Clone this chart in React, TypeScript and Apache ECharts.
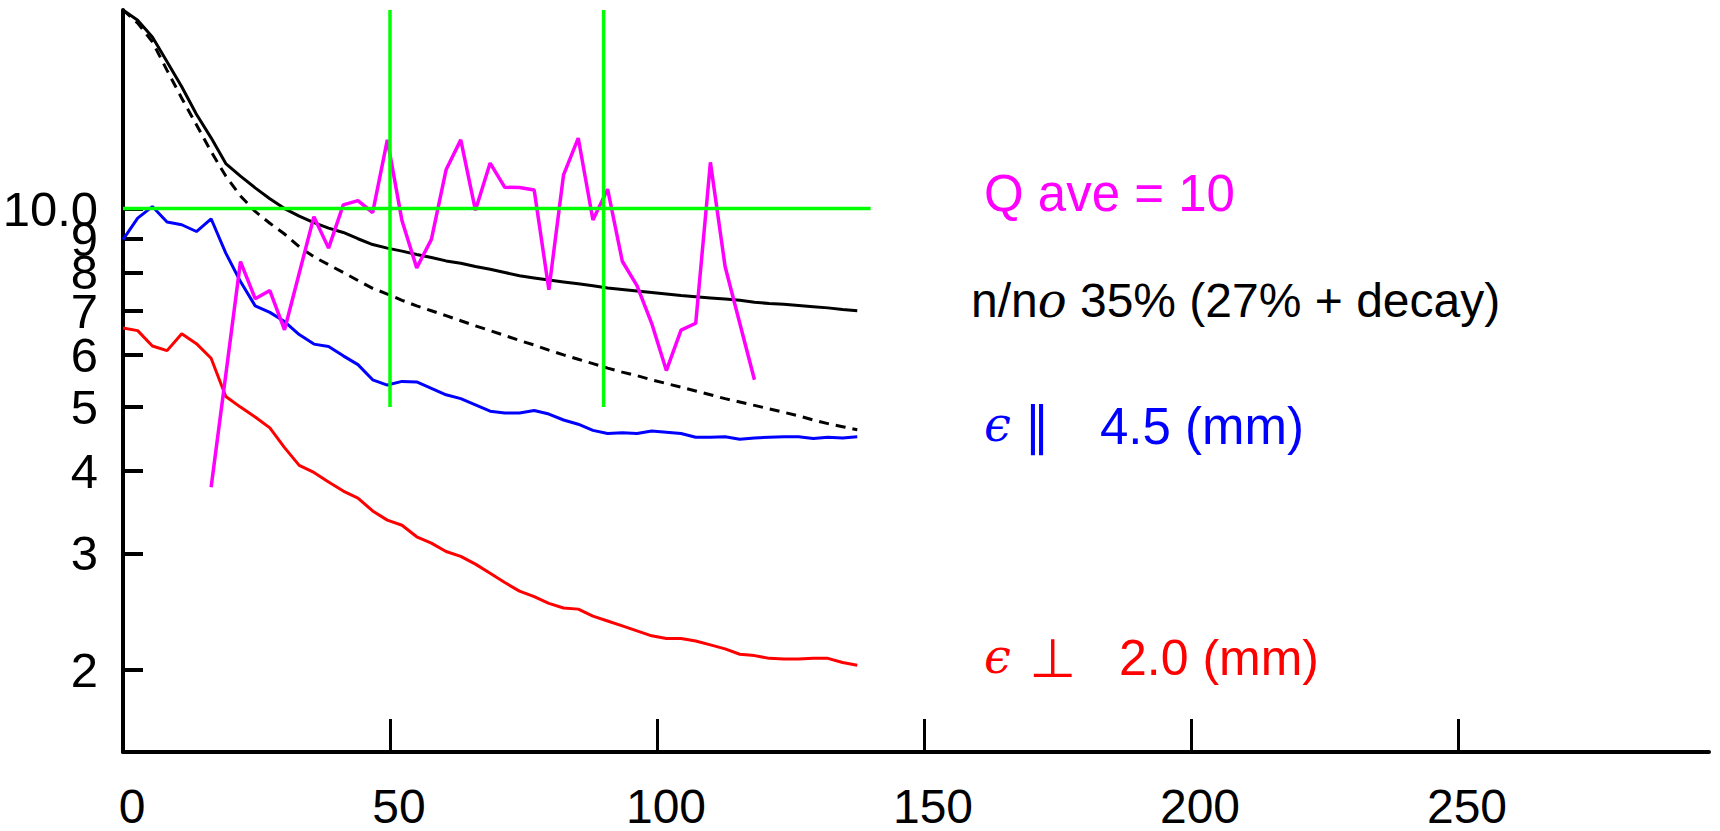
import React, { useEffect, useRef } from "react";
import * as echarts from "echarts";

// Sample positions along the horizontal axis
const sampleX = [
  0, 2.75, 5.5, 8.25, 11, 13.75, 16.5, 19.25, 22, 24.75, 27.5, 30.25, 33, 35.75, 38.5, 41.25, 44,
  46.75, 49.5, 52.25, 55, 57.75, 60.5, 63.25, 66, 68.75, 71.5, 74.25, 77, 79.75, 82.5, 85.25, 88,
  90.75, 93.5, 96.25, 99, 101.75, 104.5, 107.25, 110, 112.75, 115.5, 118.25, 121, 123.75, 126.5,
  129.25, 132, 134.75, 137.5,
];

// n/no, measured (solid black)
const nRatio = [
  20.0, 19.3, 18.2, 16.7, 15.3, 13.9, 12.8, 11.7, 11.2, 10.75, 10.35, 10.0, 9.74, 9.52, 9.34, 9.2,
  9.0, 8.82, 8.71, 8.62, 8.52, 8.43, 8.33, 8.26, 8.17, 8.09, 8.0, 7.91, 7.85, 7.79, 7.74, 7.69,
  7.64, 7.58, 7.54, 7.5, 7.46, 7.42, 7.38, 7.35, 7.32, 7.29, 7.26, 7.21, 7.18, 7.16, 7.13, 7.1,
  7.07, 7.03, 7.0,
];

// n/no including decay (dashed black)
const nDecay = [
  20.0, 19.1, 17.9, 16.2, 14.7, 13.4, 12.2, 11.2, 10.45, 9.9, 9.5, 9.15, 8.75, 8.45, 8.22, 8.0,
  7.78, 7.57, 7.42, 7.26, 7.12, 7.0, 6.88, 6.76, 6.64, 6.53, 6.42, 6.31, 6.21, 6.1, 6.0, 5.91,
  5.82, 5.73, 5.65, 5.58, 5.5, 5.43, 5.36, 5.29, 5.22, 5.15, 5.09, 5.03, 4.97, 4.91, 4.85, 4.78,
  4.72, 4.67, 4.62,
];

// parallel emittance (mm)
const emitPar = [
  8.97, 9.67, 10.07, 9.54, 9.45, 9.23, 9.65, 8.56, 7.75, 7.12, 6.96, 6.74, 6.44, 6.23, 6.18, 5.98,
  5.8, 5.5, 5.4, 5.47, 5.46, 5.34, 5.22, 5.15, 5.04, 4.93, 4.9, 4.9, 4.94, 4.88, 4.78, 4.71, 4.61,
  4.56, 4.57, 4.56, 4.6, 4.58, 4.56, 4.5, 4.5, 4.51, 4.47, 4.49, 4.5, 4.51, 4.51, 4.48, 4.5, 4.49,
  4.51,
];

// perpendicular emittance (mm)
const emitPerp = [
  6.59, 6.53, 6.19, 6.09, 6.46, 6.24, 5.93, 5.19, 5.0, 4.83, 4.65, 4.34, 4.08, 3.98, 3.85, 3.73,
  3.64, 3.48, 3.37, 3.31, 3.18, 3.11, 3.02, 2.97, 2.89, 2.8, 2.71, 2.63, 2.58, 2.52, 2.48, 2.47,
  2.41, 2.37, 2.33, 2.29, 2.25, 2.23, 2.23, 2.21, 2.18, 2.15, 2.11, 2.1, 2.08, 2.075, 2.075, 2.08,
  2.08, 2.05, 2.03,
];

// Q, starting at the 7th sample
const qStart = 6;
const qValues = [
  3.78, 5.6, 8.31, 7.3, 7.51, 6.55, 7.98, 9.72, 8.71, 10.13, 10.28, 9.86, 12.71, 9.58, 8.13, 8.98,
  11.45, 12.71, 9.94, 11.72, 10.77, 10.76, 10.67, 7.53, 11.25, 12.79, 9.61, 10.7, 8.32, 7.64, 6.7,
  5.68, 6.54, 6.7, 11.75, 8.17, 6.7, 5.5,
];

// reference lines
const qAveLine = [
  [0, 10],
  [140, 10],
];
const windowLeft = [
  [50, 5],
  [50, 20],
];
const windowRight = [
  [90, 5],
  [90, 20],
];

const yTickValues = [2, 3, 4, 5, 6, 7, 8, 9, 10];
// labels split over two coincident axes so that neighbouring labels are all kept
const yLabelsEven = [2, 4, 6, 8, 10];
const yLabelsOdd = [3, 5, 7, 9];
const xTickValues = [50, 100, 150, 200, 250];
const xLabelValues = [0, 50, 100, 150, 200, 250];

const FONT = "'Liberation Sans', Arial, sans-serif";
const MATH = "'DejaVu Serif', 'Liberation Serif', serif";
const SYM = "'DejaVu Sans', sans-serif";

const pairs = (xs: number[], ys: number[]) => ys.map((y, i) => [xs[i], y]);

export default function App() {
  const ref = useRef<HTMLDivElement>(null);

  useEffect(() => {
    if (!ref.current) return;
    const chart = echarts.init(ref.current, null, { renderer: "svg" });

    const lineSeries = (
      data: number[][],
      color: string,
      width: number,
      type: any = "solid",
      z = 2
    ) => ({
      type: "line",
      data,
      yAxisIndex: 0,
      showSymbol: false,
      symbol: "none",
      z,
      lineStyle: { color, width, type },
      emphasis: { disabled: true },
      silent: true,
    });

    const txt = (
      x: number,
      y: number,
      text: string,
      fill: string,
      extra: Record<string, any> = {}
    ) => ({
      type: "text",
      x,
      y,
      silent: true,
      style: {
        text,
        fill,
        fontSize: 48,
        fontFamily: FONT,
        align: "left",
        textAlign: "left",
        verticalAlign: "middle",
        textVerticalAlign: "middle",
        ...extra,
      },
    });

    const yLabel = (values: number[]) => ({
      customValues: values,
      color: "#000",
      fontSize: 49,
      fontFamily: FONT,
      margin: 25,
      formatter: (v: number) => (Math.abs(v - 10) < 1e-6 ? "10.0" : String(Math.round(v))),
    });

    const yBase = {
      type: "log",
      logBase: 10,
      min: 1.5,
      max: 20,
      position: "left",
      offset: 0,
      gridIndex: 0,
      splitLine: { show: false },
      minorTick: { show: false },
    };

    chart.setOption({
      animation: false,
      backgroundColor: "#ffffff",
      grid: { left: 123, top: 10, right: 11, bottom: 79, outerBoundsMode: "none" },
      xAxis: {
        type: "value",
        min: 0,
        max: 297,
        interval: 50,
        axisLine: { show: true, onZero: false, lineStyle: { color: "#000", width: 4 } },
        axisTick: {
          show: true,
          inside: true,
          length: 33,
          customValues: xTickValues,
          lineStyle: { color: "#000", width: 3 },
        },
        axisLabel: {
          customValues: xLabelValues,
          color: "#000",
          fontSize: 48,
          fontFamily: FONT,
          lineHeight: 48,
          margin: 30,
          padding: [0, 0, 0, 18],
        },
        splitLine: { show: false },
      },
      yAxis: [
        {
          ...yBase,
          axisLine: { show: true, onZero: false, lineStyle: { color: "#000", width: 4 } },
          axisTick: {
            show: true,
            inside: true,
            length: 20,
            customValues: yTickValues,
            lineStyle: { color: "#000", width: 4 },
          },
          axisLabel: yLabel(yLabelsEven),
        },
        {
          ...yBase,
          axisLine: { show: false, onZero: false },
          axisTick: { show: false },
          axisLabel: yLabel(yLabelsOdd),
        },
      ],
      series: [
        lineSeries(pairs(sampleX, nDecay), "#000000", 3, [10, 7], 2),
        lineSeries(pairs(sampleX, nRatio), "#000000", 3, "solid", 3),
        lineSeries(pairs(sampleX, emitPar), "#0000ff", 3, "solid", 3),
        lineSeries(pairs(sampleX, emitPerp), "#ff0000", 3, "solid", 3),
        lineSeries(pairs(sampleX.slice(qStart, qStart + qValues.length), qValues), "#ff00ff", 3.5, "solid", 4),
        lineSeries(qAveLine, "#00ff00", 3.5, "solid", 5),
        lineSeries(windowLeft, "#00ff00", 3.5, "solid", 5),
        lineSeries(windowRight, "#00ff00", 3.5, "solid", 5),
      ],
      graphic: [
        txt(984, 193, "Q ave = 10", "#ff00ff", { fontSize: 51 }),
        txt(971, 300, "n/n{i|o} 35% (27% + decay)", "#000000", {
          rich: { i: { fontStyle: "italic", fontFamily: MATH, fontSize: 48, fill: "#000000" } },
        }),
        txt(984, 424, "ϵ", "#0000ff", { fontFamily: MATH, fontStyle: "italic" }),
        txt(1024, 426, "∥", "#0000ff", { fontFamily: SYM, fontSize: 52 }),
        txt(1100, 426, "4.5 (mm)", "#0000ff", { fontSize: 51 }),
        txt(984, 656, "ϵ", "#ff0000", { fontFamily: MATH, fontStyle: "italic" }),
        txt(1029, 658, "⊥", "#ff0000", { fontFamily: SYM, fontSize: 54 }),
        txt(1119, 658, "2.0 (mm)", "#ff0000", { fontSize: 50 }),
      ],
    });

    return () => chart.dispose();
  }, []);

  return (
    <div
      ref={ref}
      style={{ position: "fixed", left: 0, top: 0, width: 1720, height: 831, background: "#fff" }}
    />
  );
}
